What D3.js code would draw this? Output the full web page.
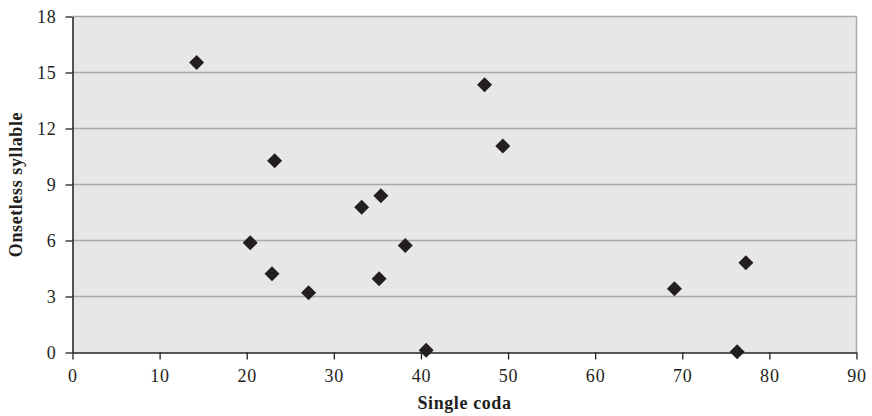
<!DOCTYPE html>
<html><head><meta charset="utf-8">
<script src="https://cdn.jsdelivr.net/npm/d3@7"></script>
<style>
body{margin:0;background:#fff;}
svg{display:block;font-family:"Liberation Serif","DejaVu Serif",serif;}
</style></head>
<body><svg id="c" width="872" height="416"></svg>
<script>
const singleCoda = [14.25, 23.2, 20.4, 22.9, 27.1, 33.2, 35.4, 35.2, 38.2, 40.6, 47.3, 49.4, 69.1, 77.3, 76.3];
const onsetless  = [15.54, 10.27, 5.88, 4.22, 3.2, 7.78, 8.40, 3.95, 5.73, 0.12, 14.35, 11.06, 3.42, 4.81, 0.04];
const xTicks = [0,10,20,30,40,50,60,70,80,90];
const yTicks = [0,3,6,9,12,15,18];
const xTitle = "Single coda";
const yTitle = "Onsetless syllable";

const svg = d3.select("#c");
const L=72.5, R=856.5, T=16.5, B=352.5;
const x = d3.scaleLinear().domain([0,90]).range([L,R]);
const y = d3.scaleLinear().domain([0,18]).range([B,T]);

svg.append("rect").attr("x",L).attr("y",T).attr("width",R-L).attr("height",B-T).attr("fill","#e6e7e9");
svg.append("g").selectAll("line").data(yTicks.filter(d=>d>0)).join("line")
  .attr("x1",L).attr("x2",R).attr("y1",d=>y(d)).attr("y2",d=>y(d))
  .attr("stroke","#a7a9ac").attr("stroke-width",1.5);
svg.append("line").attr("x1",R).attr("x2",R).attr("y1",T).attr("y2",B).attr("stroke","#a7a9ac").attr("stroke-width",1.5);

const xa = svg.append("g").attr("transform",`translate(0,${B})`)
  .call(d3.axisBottom(x).tickValues(xTicks).tickSize(7).tickSizeOuter(0).tickPadding(10));
const ya = svg.append("g").attr("transform",`translate(${L},0)`)
  .call(d3.axisLeft(y).tickValues(yTicks).tickSize(7).tickSizeOuter(0).tickPadding(9));
[xa,ya].forEach(a=>{
  a.select(".domain").attr("stroke","#231f20").attr("stroke-width",1.5);
  a.selectAll(".tick line").attr("stroke","#231f20").attr("stroke-width",1.3);
  a.selectAll("text").attr("font-size",18).attr("letter-spacing",0.8).attr("fill","#231f20").attr("font-family","Liberation Serif, DejaVu Serif, serif");
});

const pts = singleCoda.map((v,i)=>({x:v,y:onsetless[i]}));
const s=7.5;
svg.append("g").selectAll("path").data(pts).join("path")
  .attr("d",d=>{const cx=x(d.x), cy=y(d.y); return `M${cx},${cy-s}L${cx+s},${cy}L${cx},${cy+s}L${cx-s},${cy}Z`;})
  .attr("fill","#231f20");

svg.append("text").attr("x",(L+R)/2).attr("y",409).attr("text-anchor","middle")
  .attr("font-size",18).attr("letter-spacing",0.6).attr("font-weight","bold").attr("fill","#231f20").text(xTitle);
svg.append("text").attr("transform",`translate(22,${(T+B)/2}) rotate(-90)`).attr("text-anchor","middle")
  .attr("font-size",18).attr("letter-spacing",0.6).attr("font-weight","bold").attr("fill","#231f20").text(yTitle);
</script></body></html>
